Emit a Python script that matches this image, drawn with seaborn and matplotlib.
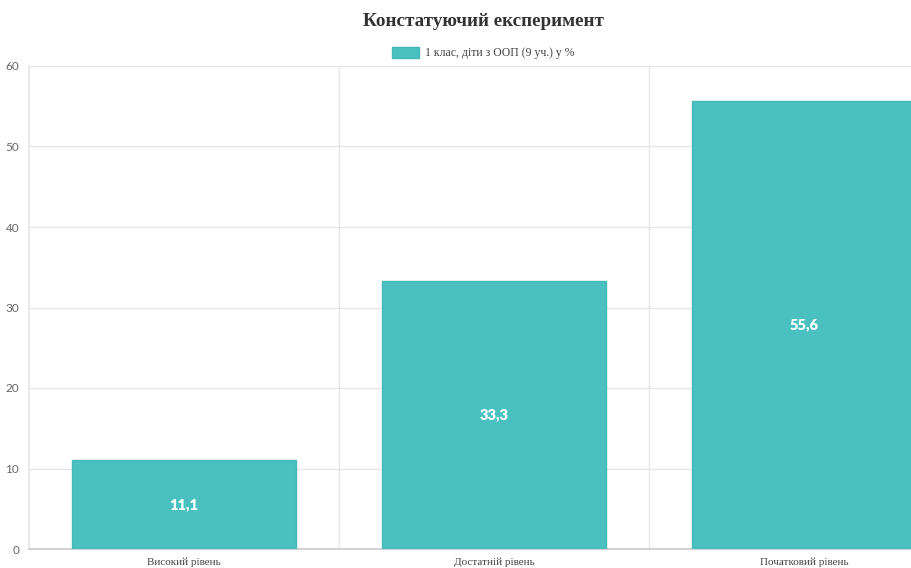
import matplotlib
matplotlib.use("Agg")
import matplotlib.pyplot as plt
from matplotlib.patches import Patch
from matplotlib.ticker import FixedLocator
import seaborn as sns
import pandas as pd

categories = ["Високий рівень", "Достатній рівень", "Початковий рівень"]
values = [11.1, 33.3, 55.6]
series_name = "1 клас, діти з ООП (9 уч.) у %"
title = "Констатуючий експеримент"
y_ticks = [0, 10, 20, 30, 40, 50, 60]

bar_color = "#4bc0c0"
edge_color = "#45b8b8"
grid_color = "#e6e6e6"

sns.set_theme(style="white")

df = pd.DataFrame({"category": categories, "value": values, "series": series_name})

W, H = 911, 568
fig = plt.figure(figsize=(W / 100, H / 100), dpi=100)
left, right, top, bottom = 29, 959, 66, 549
ax = fig.add_axes([left / W, 1 - bottom / H, (right - left) / W, (bottom - top) / H])

sns.barplot(data=df, x="category", y="value", hue="series", palette=[bar_color],
            saturation=1, width=0.72, ax=ax, legend=False, linewidth=1,
            edgecolor=edge_color, zorder=3)

ax.set_xlim(-0.5, 2.5)
ax.set_ylim(0, 60)
ax.set_yticks(y_ticks)
ax.set_yticklabels([str(t) for t in y_ticks], fontfamily="Lato", fontsize=8.5, color="#666666")
ax.set_xticks(range(len(categories)))
ax.set_xticklabels(categories, fontfamily="Liberation Serif", fontsize=8, color="#444444")
ax.tick_params(axis="x", which="major", length=0, pad=6)
ax.tick_params(axis="y", which="major", length=5, color=grid_color, width=1, pad=2)
ax.xaxis.set_minor_locator(FixedLocator([0.5, 1.5]))
ax.tick_params(axis="x", which="minor", length=8, color=grid_color, width=1)

ax.set_axisbelow(True)
ax.grid(axis="y", which="major", color=grid_color, linewidth=1)
ax.grid(axis="x", which="minor", color=grid_color, linewidth=1)
ax.set_xlabel("")
ax.set_ylabel("")
for side in ["top", "right"]:
    ax.spines[side].set_visible(False)
ax.spines["left"].set_color(grid_color)
ax.spines["bottom"].set_color("#cccccc")

for i, v in enumerate(values):
    ax.text(i, v / 2, f"{v:.1f}".replace(".", ","), ha="center", va="center",
            color="white", fontsize=10.5, fontweight="heavy", fontfamily="Lato", zorder=5)

fig.text(483 / W, 1 - 21 / H, title, ha="center", va="center",
         fontfamily="Liberation Serif", fontweight="bold", fontsize=13.8, color="#333333")

handle = Patch(facecolor=bar_color, edgecolor=edge_color, label=series_name)
fig.legend(handles=[handle], loc="center", bbox_to_anchor=(483 / W, 1 - 53 / H),
           frameon=False, prop={"family": "Liberation Serif", "size": 8.5},
           handlelength=2.3, handleheight=1.1, handletextpad=0.5, labelcolor="#444444")

fig.savefig("out.png", dpi=100)
